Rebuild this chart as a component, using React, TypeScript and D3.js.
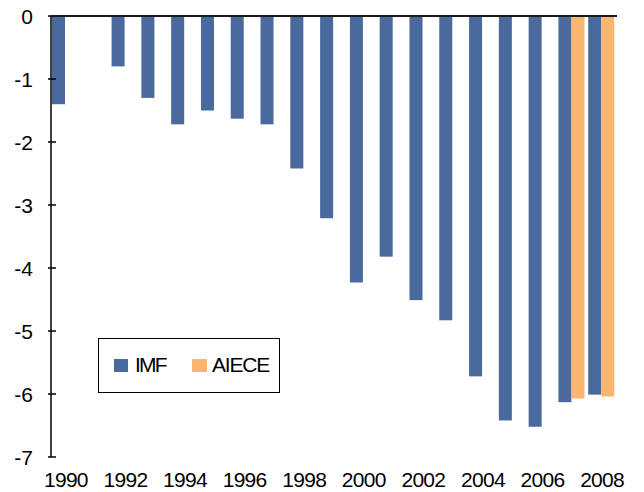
import React from "react";
import * as d3 from "d3";

const years: number[] = [1990,1991,1992,1993,1994,1995,1996,1997,1998,1999,2000,2001,2002,2003,2004,2005,2006,2007,2008];
const imf: (number | null)[] = [-1.4,null,-0.8,-1.3,-1.72,-1.5,-1.63,-1.72,-2.42,-3.21,-4.23,-3.82,-4.51,-4.83,-5.72,-6.42,-6.52,-6.13,-6.01];
const aiece: (number | null)[] = [null,null,null,null,null,null,null,null,null,null,null,null,null,null,null,null,null,-6.07,-6.04];
const yTicks: number[] = [0,-1,-2,-3,-4,-5,-6,-7];
const xTickYears: number[] = [1990,1992,1994,1996,1998,2000,2002,2004,2006,2008];
const seriesNames: string[] = ["IMF", "AIECE"];

const BLUE = "#4A6A9E";
const ORANGE = "#FAB570";
const FONT = "Liberation Sans, Arial, sans-serif";

export default function App() {
  const W = 644, H = 492;
  const x = d3.scaleBand<number>().domain(years).range([51, 617]).paddingInner(0).paddingOuter(0);
  const y = d3.scaleLinear().domain([-7, 0]).range([457, 16]);
  const bw = x.bandwidth();
  const barW = bw * 0.437;
  const off = 1;

  const series = [
    { name: seriesNames[0], values: imf, color: BLUE, idx: 0 },
    { name: seriesNames[1], values: aiece, color: ORANGE, idx: 1 },
  ];

  return (
    <svg width={W} height={H} style={{ position: "absolute", left: 0, top: 0, background: "#fff" }} fontFamily={FONT}>
      <rect x={0} y={0} width={W} height={H} fill="#fff" />
      {series.map((s) =>
        s.values.map((v, i) =>
          v == null ? null : (
            <rect
              key={s.name + i}
              x={(x(years[i]) as number) + off + s.idx * barW}
              y={y(0)}
              width={barW}
              height={y(v) - y(0)}
              fill={s.color}
            />
          )
        )
      )}
      {/* zero line */}
      <line x1={51} x2={617} y1={y(0)} y2={y(0)} stroke="#1a1a1a" strokeWidth={2} />
      {/* y axis */}
      <line x1={51} x2={51} y1={y(0)} y2={y(-7)} stroke="#000" strokeWidth={1.5} />
      {yTicks.map((t) => (
        <g key={t}>
          <line x1={48} x2={t === 0 ? 51 : 56} y1={y(t)} y2={y(t)} stroke="#000" strokeWidth={1.5} />
          <text x={33} y={y(t)} dy="0.36em" textAnchor="end" fontSize={21} fill="#000">
            {t === 0 ? "0" : String(t)}
          </text>
        </g>
      ))}
      {xTickYears.map((yr) => (
        <text key={yr} x={(x(yr) as number) + bw / 2} y={487} textAnchor="middle" fontSize={21} letterSpacing={-0.7} fill="#000">
          {yr}
        </text>
      ))}
      {/* legend */}
      <rect x={98.5} y={338.5} width={181} height={54} fill="#fff" stroke="#000" strokeWidth={1} />
      <rect x={114} y={359} width={14} height={13} fill={BLUE} />
      <text x={135} y={372} fontSize={21} fill="#000" letterSpacing={-1.8}>{seriesNames[0]}</text>
      <rect x={192} y={359} width={15} height={13} fill={ORANGE} />
      <text x={212} y={372} fontSize={21} fill="#000" letterSpacing={-1.2}>{seriesNames[1]}</text>
    </svg>
  );
}
